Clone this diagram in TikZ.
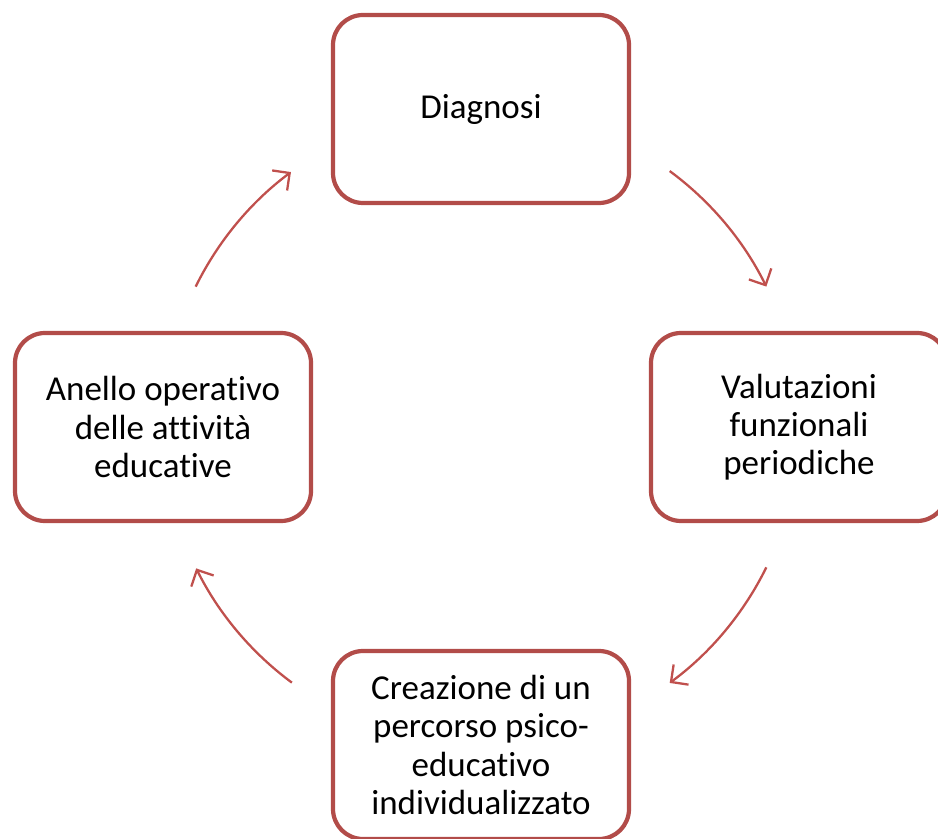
\documentclass[tikz,border=0pt]{standalone}
\usepackage{fontspec}
\setmainfont{Carlito}[Ligatures={NoCommon}]
\usepackage{tikz}
\usetikzlibrary{positioning, arrows.meta}
\definecolor{BoxRed}{HTML}{B24C49}
\definecolor{ArrowRed}{HTML}{C0504D}

\begin{document}
\begin{tikzpicture}[node distance=6.36cm and 6.36cm, on grid,
    every node/.style={fill=white, font=\fontsize{19.9}{21.7}\selectfont}, align=center,
    phase/.style={draw=BoxRed, line width=2.4pt, rounded corners=0.6cm, minimum width=5.92cm, minimum height=3.76cm},
    flow/.style={-{Straight Barb[length=0.25cm, width=0.5cm]}, line width=1.3pt, ArrowRed}]
  \useasboundingbox (0,0) rectangle (18.76,-16.78);
  \node (diag) [phase] at (9.62,-2.18) {Diagnosi};
  \node (val) [phase, below right=of diag] {Valutazioni\\funzionali\\periodiche};
  \node (anello) [phase, below left=of diag] {Anello operativo\\delle attività\\educative};
  \node (percorso) [phase, below=12.72cm of diag] {Creazione di un\\percorso psico-\\educativo\\individualizzato};
  \coordinate (ctr) at (9.62,-8.54);
  % the cycle arrows lie on one circle
  \draw [flow] (ctr) ++(53.6:6.36) arc[start angle=53.6, end angle=26.2, radius=6.36];
  \draw [flow] (ctr) ++(-26.2:6.36) arc[start angle=-26.2, end angle=-53.6, radius=6.36];
  \draw [flow] (ctr) ++(233.5:6.36) arc[start angle=233.5, end angle=206.4, radius=6.36];
  \draw [flow] (ctr) ++(153.8:6.36) arc[start angle=153.8, end angle=126.7, radius=6.36];
\end{tikzpicture}
\end{document}
